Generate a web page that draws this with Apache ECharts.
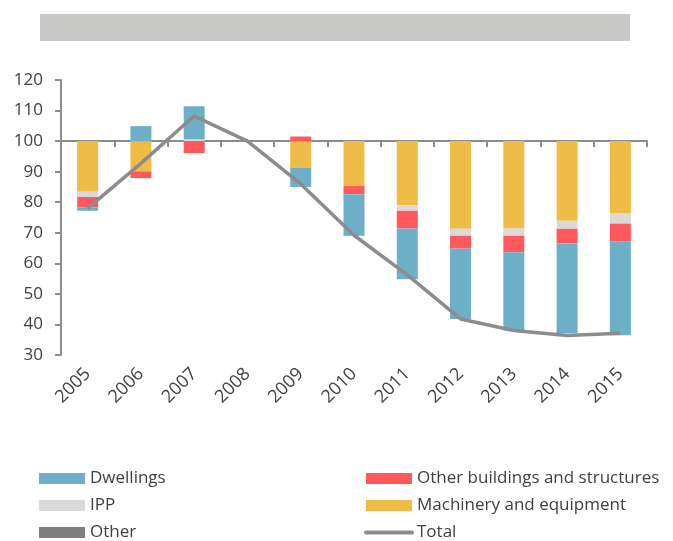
<!DOCTYPE html>
<html>
<head>
<meta charset="utf-8">
<script src="https://cdn.jsdelivr.net/npm/echarts@6/dist/echarts.min.js"></script>
<style>
	html, body { margin: 0; padding: 0; background: #fff; }
	#chart { width: 673px; height: 541px; }
</style>
</head>
<body>
<div id="chart"></div>
<script>
// years on the category axis
var years = ['2005', '2006', '2007', '2008', '2009', '2010', '2011', '2012', '2013', '2014', '2015'];

// contributions to the change from 2008 (index points, 2008 = 100)
var machinery = [-16.6, -9.9, 0, 0, -8.7, -14.7, -21.0, -28.7, -28.6, -26.1, -23.7];
var ipp = [-1.7, 0, 0.6, 0, 0, 0, -1.8, -2.3, -2.4, -2.6, -3.3];
var otherBuildings = [-3.4, -2.2, -3.9, 0, 1.5, -2.7, -5.8, -4.2, -5.4, -4.8, -5.8];
var dwellings = [-1.1, 4.9, 10.8, 0, -6.3, -13.6, -16.6, -23.0, -25.7, -29.4, -30.7];
var other = [0, 0, 0, 0, 0, 0, 0, 0, 0, 0, 0];

// total index, 2008 = 100
var total = [78.0, 92.7, 108.2, 100, 86.0, 69.2, 56.2, 41.8, 38.0, 36.4, 37.1];

// y axis tick labels run 30..120 around the base of 100
var base = 100;

var font = 'Open Sans';
var textColor = '#404040';
var axisGrey = '#8c8c8c';

var chart = echarts.init(document.getElementById('chart'));

function barSeries(name, data, color) {
	return {
		name: name,
		type: 'bar',
		stack: 'gfcf',
		barWidth: 21,
		xAxisIndex: 0,
		itemStyle: {
			color: color
		},
		data: data
	};
}

var legendText = { fontFamily: font, fontSize: 17, color: textColor };

var option = {
	animation: false,
	graphic: [{
		type: 'rect',
		shape: { x: 40, y: 14, width: 590, height: 27 },
		style: { fill: '#c8c8c6' }
	}],
	grid: {
		left: 61,
		right: 26,
		top: 80,
		bottom: 186
	},
	legend: [{
		orient: 'vertical',
		left: 39,
		top: 470,
		height: 120,
		padding: 0,
		itemWidth: 46,
		itemHeight: 11,
		itemGap: 10,
		textStyle: legendText,
		data: [
			{ name: 'Dwellings', icon: 'rect' },
			{ name: 'IPP', icon: 'rect' },
			{ name: 'Other', icon: 'rect' }
		]
	}, {
		orient: 'vertical',
		left: 364,
		top: 470,
		height: 120,
		padding: 0,
		itemWidth: 46,
		itemHeight: 11,
		itemGap: 10,
		textStyle: legendText,
		data: [
			{ name: 'Other buildings and structures', icon: 'rect' },
			{ name: 'Machinery and equipment', icon: 'rect' },
			{
				name: 'Total',
				itemStyle: { color: 'transparent', borderWidth: 0 },
				lineStyle: { width: 4, cap: 'round' }
			}
		]
	}],
	xAxis: [{
		type: 'category',
		data: years,
		axisLine: {
			onZero: true,
			lineStyle: { color: axisGrey, width: 2 }
		},
		axisTick: {
			show: true,
			length: 6,
			lineStyle: { color: axisGrey, width: 2 }
		},
		axisLabel: { show: false }
	}, {
		type: 'category',
		data: years,
		position: 'bottom',
		axisLine: { show: false, onZero: false },
		axisTick: { show: false },
		axisLabel: {
			rotate: 45,
			margin: 16,
			fontFamily: font,
			fontSize: 18,
			color: textColor
		}
	}],
	yAxis: {
		type: 'value',
		min: -70,
		max: 20,
		interval: 10,
		axisLine: {
			show: true,
			lineStyle: { color: axisGrey, width: 2 }
		},
		axisTick: {
			show: true,
			length: 6,
			lineStyle: { color: axisGrey, width: 2 }
		},
		splitLine: { show: false },
		axisLabel: {
			margin: 18,
			fontFamily: font,
			fontSize: 17,
			color: textColor,
			formatter: function(v) {
				return v + base;
			}
		}
	},
	series: [
		barSeries('Machinery and equipment', machinery, '#f0bc48'),
		barSeries('IPP', ipp, '#d9d9d9'),
		barSeries('Other buildings and structures', otherBuildings, '#ff585d'),
		barSeries('Dwellings', dwellings, '#6eafc8'),
		barSeries('Other', other, '#7f7f7f'),
		{
			name: 'Total',
			type: 'line',
			xAxisIndex: 0,
			symbol: 'none',
			lineStyle: { color: axisGrey, width: 3.5 },
			itemStyle: { color: axisGrey },
			data: total.map(function(v) {
				return +(v - base).toFixed(1);
			})
		}
	]
};

chart.setOption(option);
</script>
</body>
</html>
